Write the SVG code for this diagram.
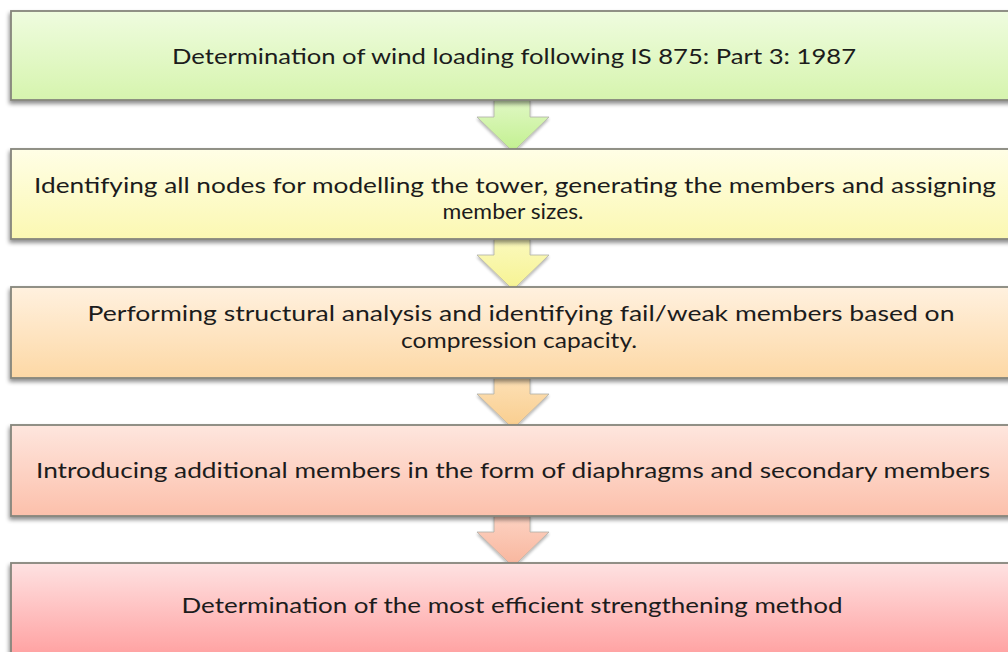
<svg xmlns="http://www.w3.org/2000/svg" width="1008" height="652" viewBox="0 0 1008 652">
  <style>
    .box { stroke: #85857c; stroke-width: 1.8; filter: url(#sh); }
    .arrow { stroke: #b0b0a8; stroke-width: 0.8; filter: url(#sh2); }
    .t { font-family: Lato, "Open Sans", "Liberation Sans", sans-serif; font-size: 21.5px; fill: #1c1c1c; text-anchor: middle; }
  </style>
  <defs>
    <filter id="sh" x="-5%" y="-20%" width="110%" height="150%">
      <feGaussianBlur in="SourceAlpha" stdDeviation="2.2"/>
      <feOffset dx="-1" dy="3" result="b"/>
      <feComponentTransfer in="b" result="c"><feFuncA type="linear" slope="0.45"/></feComponentTransfer>
      <feMerge><feMergeNode in="c"/><feMergeNode in="SourceGraphic"/></feMerge>
    </filter>
    <filter id="sh2" x="-30%" y="-30%" width="160%" height="160%">
      <feGaussianBlur in="SourceAlpha" stdDeviation="1.5"/>
      <feOffset dx="0" dy="2" result="b"/>
      <feComponentTransfer in="b" result="c"><feFuncA type="linear" slope="0.3"/></feComponentTransfer>
      <feMerge><feMergeNode in="c"/><feMergeNode in="SourceGraphic"/></feMerge>
    </filter>
    <linearGradient id="g1" x1="0" y1="0" x2="0" y2="1"><stop offset="0" stop-color="#effcdf"/><stop offset="1" stop-color="#d6f4ae"/></linearGradient>
    <linearGradient id="g2" x1="0" y1="0" x2="0" y2="1"><stop offset="0" stop-color="#fffee6"/><stop offset="1" stop-color="#fbf8b2"/></linearGradient>
    <linearGradient id="g3" x1="0" y1="0" x2="0" y2="1"><stop offset="0" stop-color="#fff1df"/><stop offset="1" stop-color="#fdd8a5"/></linearGradient>
    <linearGradient id="g4" x1="0" y1="0" x2="0" y2="1"><stop offset="0" stop-color="#fee6de"/><stop offset="1" stop-color="#fcc0ab"/></linearGradient>
    <linearGradient id="g5" x1="0" y1="0" x2="0" y2="1"><stop offset="0" stop-color="#fee2e2"/><stop offset="1" stop-color="#ff9c9c"/></linearGradient>
    <linearGradient id="a1" x1="0" y1="0" x2="0" y2="1"><stop offset="0" stop-color="#e0f8c4"/><stop offset="1" stop-color="#c2f08f"/></linearGradient>
    <linearGradient id="a2" x1="0" y1="0" x2="0" y2="1"><stop offset="0" stop-color="#fbf9bd"/><stop offset="1" stop-color="#f6f392"/></linearGradient>
    <linearGradient id="a3" x1="0" y1="0" x2="0" y2="1"><stop offset="0" stop-color="#fde0b5"/><stop offset="1" stop-color="#f9cd8d"/></linearGradient>
    <linearGradient id="a4" x1="0" y1="0" x2="0" y2="1"><stop offset="0" stop-color="#fdd2c2"/><stop offset="1" stop-color="#f8b59c"/></linearGradient>
  </defs>

  <g id="connectors">
    <path class="arrow" fill="url(#a1)" d="M494,100 H530 V117 H549 L513,152 L477,117 H494 Z"/>
    <path class="arrow" fill="url(#a2)" d="M494,239 H530 V255 H549 L513,290 L477,255 H494 Z"/>
    <path class="arrow" fill="url(#a3)" d="M494,378 H530 V394 H549 L513,429 L477,394 H494 Z"/>
    <path class="arrow" fill="url(#a4)" d="M494,516 H530 V532 H549 L513,567 L477,532 H494 Z"/>
  </g>

  <g id="node1">
    <rect class="box" x="11" y="11" width="1010" height="89" fill="url(#g1)"/>
    <text class="t" x="514" y="64" textLength="684" lengthAdjust="spacingAndGlyphs">Determination of wind loading following IS 875: Part 3: 1987</text>
  </g>
  <g id="node2">
    <rect class="box" x="11" y="149" width="1010" height="90" fill="url(#g2)"/>
    <text class="t" x="515" y="193" textLength="962" lengthAdjust="spacingAndGlyphs">Identifying all nodes for modelling the tower, generating the members and assigning</text>
    <text class="t" x="513" y="219" textLength="141" lengthAdjust="spacingAndGlyphs">member sizes.</text>
  </g>
  <g id="node3">
    <rect class="box" x="11" y="287" width="1010" height="91" fill="url(#g3)"/>
    <text class="t" x="521" y="321" textLength="867" lengthAdjust="spacingAndGlyphs">Performing structural analysis and identifying fail/weak members based on</text>
    <text class="t" x="519" y="348" textLength="236" lengthAdjust="spacingAndGlyphs">compression capacity.</text>
  </g>
  <g id="node4">
    <rect class="box" x="11" y="425" width="1010" height="91" fill="url(#g4)"/>
    <text class="t" x="513" y="478" textLength="954" lengthAdjust="spacingAndGlyphs">Introducing additional members in the form of diaphragms and secondary members</text>
  </g>
  <g id="node5">
    <rect class="box" x="11" y="563" width="1010" height="100" fill="url(#g5)"/>
    <text class="t" x="512" y="613" textLength="661" lengthAdjust="spacingAndGlyphs">Determination of the most efficient strengthening method</text>
  </g>
</svg>
